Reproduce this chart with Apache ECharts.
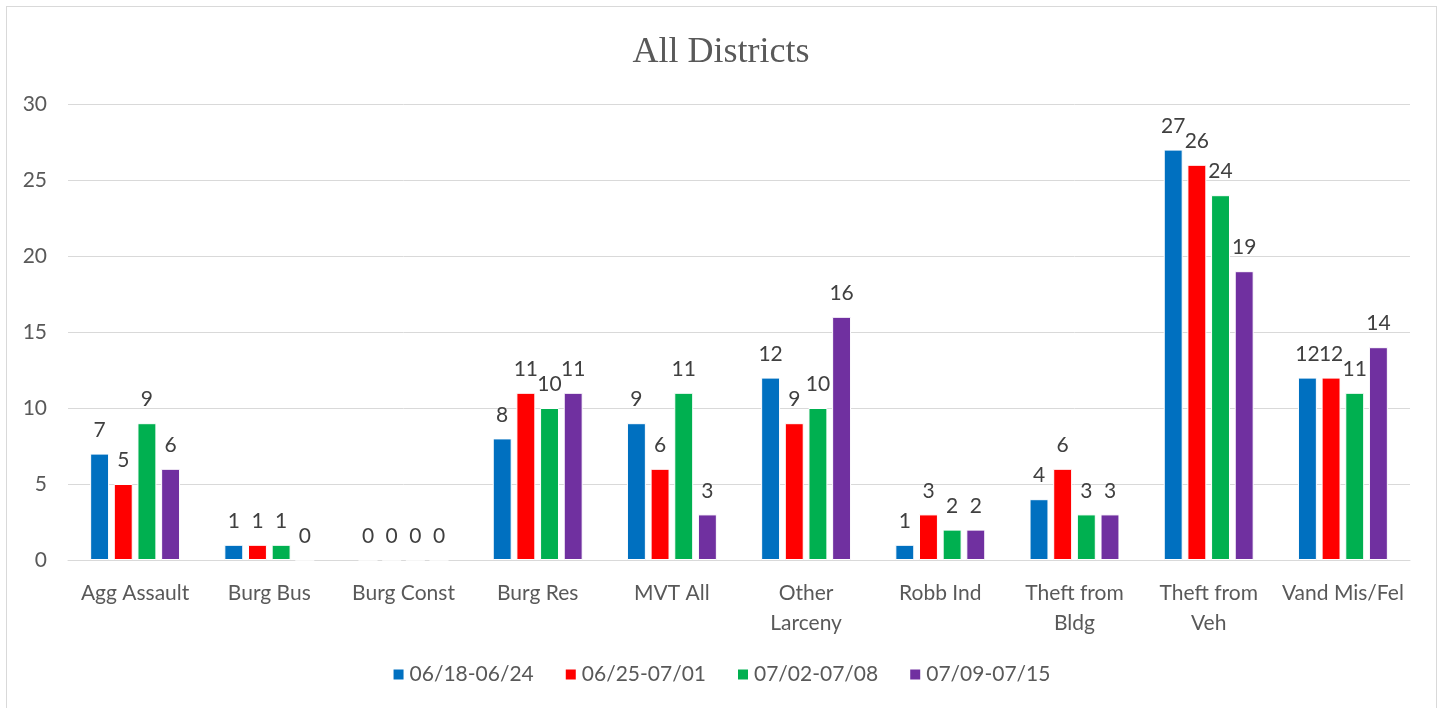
<!DOCTYPE html>
<html lang="en">
<head>
    <meta charset="UTF-8">
    <title>All Districts</title>
    <style>
        body { margin: 0; background: #fff; }
        #frame { position: absolute; left: 6px; top: 6px; width: 1429px; height: 710px; border: 1px solid #d9d9d9; }
        #chart { position: absolute; left: 0; top: 0; width: 1442px; height: 708px; }
    </style>
</head>
<body>
    <div id="frame"></div>
    <div id="chart"></div>
    <script src="https://cdn.jsdelivr.net/npm/echarts@6/dist/echarts.min.js"></script>
    <script>
        var categories = ['Agg Assault', 'Burg Bus', 'Burg Const', 'Burg Res', 'MVT All', 'Other\nLarceny', 'Robb Ind', 'Theft from\nBldg', 'Theft from\nVeh', 'Vand Mis/Fel']
        var weeks = ['06/18-06/24', '06/25-07/01', '07/02-07/08', '07/09-07/15']
        var week1 = [7, 1, 0, 8, 9, 12, 1, 4, 27, 12]
        var week2 = [5, 1, 0, 11, 6, 9, 3, 6, 26, 12]
        var week3 = [9, 1, 0, 10, 11, 10, 2, 3, 24, 11]
        var week4 = [6, 0, 0, 11, 3, 16, 2, 3, 19, 14]
        var colors = ['#0070C0', '#FF0000', '#00B050', '#7030A0']
        var yTicks = [0, 5, 10, 15, 20, 25, 30]

        var values = [week1, week2, week3, week4]
        var font = 'Lato, "Open Sans", sans-serif'

        var myChart = echarts.init(document.getElementById('chart'))

        var series = []
        for (let i = 0; i < weeks.length; i++) {
            series.push({
                name: weeks[i],
                type: 'bar',
                data: values[i],
                barGap: '25%',
                barCategoryGap: '33%',
                itemStyle: { color: colors[i], borderColor: '#fff', borderWidth: 1 },
                label: {
                    show: true,
                    position: 'top',
                    distance: 13,
                    color: '#404040',
                    fontSize: 21,
                    fontFamily: font,
                    formatter: function (p) { return p.value }
                }
            })
        }

        option = {
            animation: false,
            title: {
                text: 'All Districts',
                left: 'center',
                top: 30,
                textStyle: { fontFamily: '"Liberation Serif", serif', fontWeight: 'normal', fontSize: 36, color: '#595959' }
            },
            grid: { left: 68, right: 32, top: 104, bottom: 148 },
            legend: {
                bottom: 18,
                itemWidth: 12,
                itemHeight: 12,
                itemGap: 30,
                icon: 'rect',
                textStyle: { fontFamily: font, fontSize: 21, color: '#595959' },
                data: weeks
            },
            xAxis: {
                type: 'category',
                data: categories,
                axisLine: { lineStyle: { color: '#d9d9d9' } },
                axisTick: { show: false },
                axisLabel: { margin: 18, fontFamily: font, fontSize: 21, color: '#595959', lineHeight: 30, interval: 0 }
            },
            yAxis: {
                type: 'value',
                min: yTicks[0],
                max: yTicks[yTicks.length - 1],
                interval: 5,
                axisLine: { show: false },
                axisTick: { show: false },
                axisLabel: { margin: 21, fontFamily: font, fontSize: 21, color: '#595959' },
                splitLine: { lineStyle: { color: '#d9d9d9' } }
            },
            series: series
        }
        myChart.setOption(option)
    </script>
</body>
</html>
